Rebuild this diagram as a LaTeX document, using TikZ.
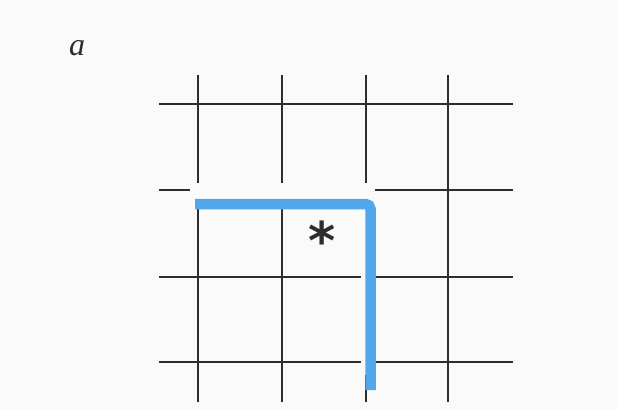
\documentclass[tikz,border=0pt]{standalone}
\usepackage{xcolor}
\usepackage{fontspec}
\newfontfamily\labelfont{Liberation Serif}
\newfontfamily\starfont{DejaVu Sans}
\definecolor{pathblue}{RGB}{82,166,236}
\definecolor{gridgray}{RGB}{45,45,45}
\definecolor{paper}{RGB}{250,250,250}
\tikzset{
  gridline/.style={draw=gridgray, line width=1.8pt},
  bluepath/.style={draw=pathblue, line width=10.5pt, rounded corners=5pt},
}
\begin{document}
\begin{tikzpicture}[x=1pt,y=-1pt]
\fill[paper] (0,0) rectangle (618,409);
\useasboundingbox (0,0) rectangle (618,409);
\path node[anchor=base, inner sep=0pt, text=gridgray] (lbl) at (77,56) {\fontsize{32}{38}\selectfont\labelfont\itshape a}
node[anchor=north, inner sep=0pt, text=gridgray] (star) at (322,221) {\fontsize{52}{60}\selectfont\starfont\bfseries *}
;
% grid ends
\path coordinate (W1) at (159,104) coordinate (E1) at (513,104)
coordinate (W2) at (159,190) coordinate (W2e) at (190,190)
coordinate (E2s) at (375,190) coordinate (E2) at (513,190)
coordinate (W3) at (159,277) coordinate (W3e) at (361,277)
coordinate (E3s) at (375,277) coordinate (E3) at (513,277)
coordinate (W4) at (159,362) coordinate (W4e) at (361,362)
coordinate (E4s) at (375,362) coordinate (E4) at (513,362)
;
\path coordinate (N1) at (198,75) coordinate (N1e) at (198,183)
coordinate (S1s) at (198,200) coordinate (S1) at (198,402)
coordinate (N2) at (282,75) coordinate (N2e) at (282,183)
coordinate (S2s) at (282,200) coordinate (S2) at (282,402)
coordinate (N3) at (366,75) coordinate (N3e) at (366,183)
coordinate (S3s) at (366,375) coordinate (S3) at (366,402)
coordinate (N4) at (448,75) coordinate (S4) at (448,402)
;
\draw[gridline] (W1) -- (E1);
\draw[gridline] (W2) -- (W2e);
\draw[gridline] (E2s) -- (E2);
\draw[gridline] (W3) -- (W3e);
\draw[gridline] (E3s) -- (E3);
\draw[gridline] (W4) -- (W4e);
\draw[gridline] (E4s) -- (E4);
\draw[gridline] (N1) -- (N1e);
\draw[gridline] (S1s) -- (S1);
\draw[gridline] (N2) -- (N2e);
\draw[gridline] (S2s) -- (S2);
\draw[gridline] (N3) -- (N3e);
\draw[gridline] (S3s) -- (S3);
\draw[gridline] (N4) -- (S4);
% the blue path
\path coordinate (P1) at (195,204) coordinate (P2) at (370.5,204)
coordinate (P3) at (370.5,390);
\draw[bluepath] (P1) -- (P2) -- (P3);
\end{tikzpicture}
\end{document}
